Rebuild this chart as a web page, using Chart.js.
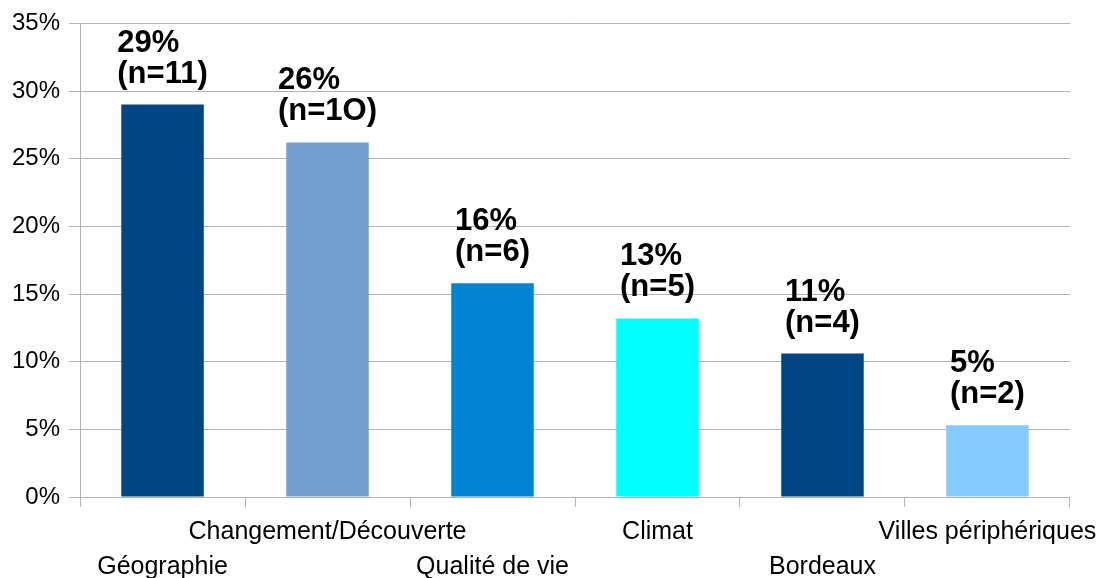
<!DOCTYPE html>
<html>
<head>
<meta charset="utf-8">
<script src="https://cdn.jsdelivr.net/npm/chart.js@4"></script>
<style>
  body { margin: 0; background: #fff; }
  #wrap { width: 1105px; height: 578px; }
</style>
</head>
<body>
<div id="wrap"><canvas id="barChart"></canvas></div>
<script>
const categories = ['Géographie', 'Changement/Découverte', 'Qualité de vie', 'Climat', 'Bordeaux', 'Villes périphériques'];
const values = [29.0, 26.2, 15.8, 13.2, 10.6, 5.3];
const pctLabels = ['29%', '26%', '16%', '13%', '11%', '5%'];
const countLabels = ['(n=11)', '(n=1O)', '(n=6)', '(n=5)', '(n=4)', '(n=2)'];
const colors = ['#004586', '#729fcf', '#0084d1', '#00ffff', '#004586', '#83caff'];
const yTicks = [0, 5, 10, 15, 20, 25, 30, 35];

// stagger labels on two rows like the original
const labels = categories.map((c, i) => i % 2 === 0 ? ['', c] : [c, '']);

const barLabels = {
  id: 'barLabels',
  afterDatasetsDraw(chart) {
    const ctx = chart.ctx;
    const meta = chart.getDatasetMeta(0);
    ctx.save();
    ctx.font = 'bold 31px "Liberation Sans", Arial, sans-serif';
    ctx.fillStyle = '#000';
    ctx.textAlign = 'left';
    ctx.textBaseline = 'alphabetic';
    meta.data.forEach((bar, i) => {
      const w = Math.max(ctx.measureText(pctLabels[i]).width, ctx.measureText(countLabels[i]).width);
      const x = bar.x - w / 2;
      ctx.fillText(pctLabels[i], x, bar.y - 53);
      ctx.fillText(countLabels[i], x, bar.y - 22);
    });
    ctx.restore();
  }
};

const grey = '#b3b3b3';
new Chart(document.getElementById('barChart'), {
  type: 'bar',
  data: {
    labels: labels,
    datasets: [{
      data: values,
      backgroundColor: colors,
      borderWidth: 0,
      barPercentage: 0.5,
      categoryPercentage: 1.0
    }]
  },
  options: {
    responsive: true,
    maintainAspectRatio: false,
    animation: false,
    layout: { padding: { top: 15, left: 3, right: 8, bottom: 0 } },
    plugins: { legend: { display: false }, tooltip: { enabled: false } },
    scales: {
      x: {
        offset: true,
        afterFit(scale) { scale.height = 81; },
        grid: { display: true, drawOnChartArea: false, offset: true, tickLength: 10, color: grey },
        border: { display: true, color: grey },
        ticks: {
          color: '#000',
          padding: 8,
          maxRotation: 0,
          autoSkip: false,
          font: { family: '"Liberation Sans", Arial, sans-serif', size: 25, lineHeight: 1.4 }
        }
      },
      y: {
        min: 0,
        max: 35,
        afterBuildTicks(scale) { scale.ticks = yTicks.map(v => ({ value: v })); },
        grid: { color: grey, tickLength: 11 },
        border: { display: true, color: grey },
        ticks: {
          color: '#000',
          padding: 9,
          callback: v => v + '%',
          font: { family: '"Liberation Sans", Arial, sans-serif', size: 24 }
        }
      }
    }
  },
  plugins: [barLabels]
});
</script>
</body>
</html>
